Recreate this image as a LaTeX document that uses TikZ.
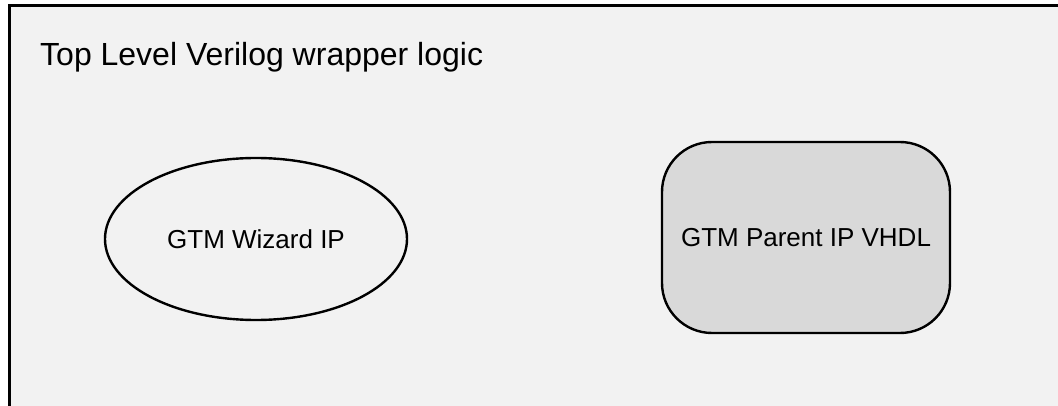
\documentclass[tikz,border=0pt]{standalone}
\usepackage{fontspec}
\setmainfont{Liberation Sans}
\usetikzlibrary{shapes.geometric}

\definecolor{wrapbg}{HTML}{F2F2F2}
\definecolor{parentbg}{HTML}{D9D9D9}

\begin{document}
\begin{tikzpicture}[x=1pt,y=-1pt,
  ipshape/.style={draw=black, line width=2.4pt, font=\fontsize{26}{30}\selectfont},
  wizard/.style={ipshape, ellipse, fill=wrapbg, minimum width=302pt, minimum height=162pt, inner sep=0pt},
  parent/.style={ipshape, rectangle, rounded corners=50pt, fill=parentbg, minimum width=288pt, minimum height=191pt, inner sep=0pt}]
\useasboundingbox (0,0) rectangle (1058,406);
\coordinate (tl) at (9,6);
\coordinate (tr) at (1070,6);
\coordinate (bl) at (9,420);
 \fill[wrapbg] (tl) rectangle (1070,420);
 \draw[line width=3pt] (bl) -- (tl) -- (tr);
 \node[anchor=base west, inner sep=0pt, font=\fontsize{32}{38}\selectfont] (title) at (40,66) {Top Level Verilog wrapper logic};
 \node[wizard] (wiz) at (256,239) {GTM Wizard IP};
 \node[parent] (par) at (806,237.5) {GTM Parent IP VHDL};
\end{tikzpicture}
\end{document}
